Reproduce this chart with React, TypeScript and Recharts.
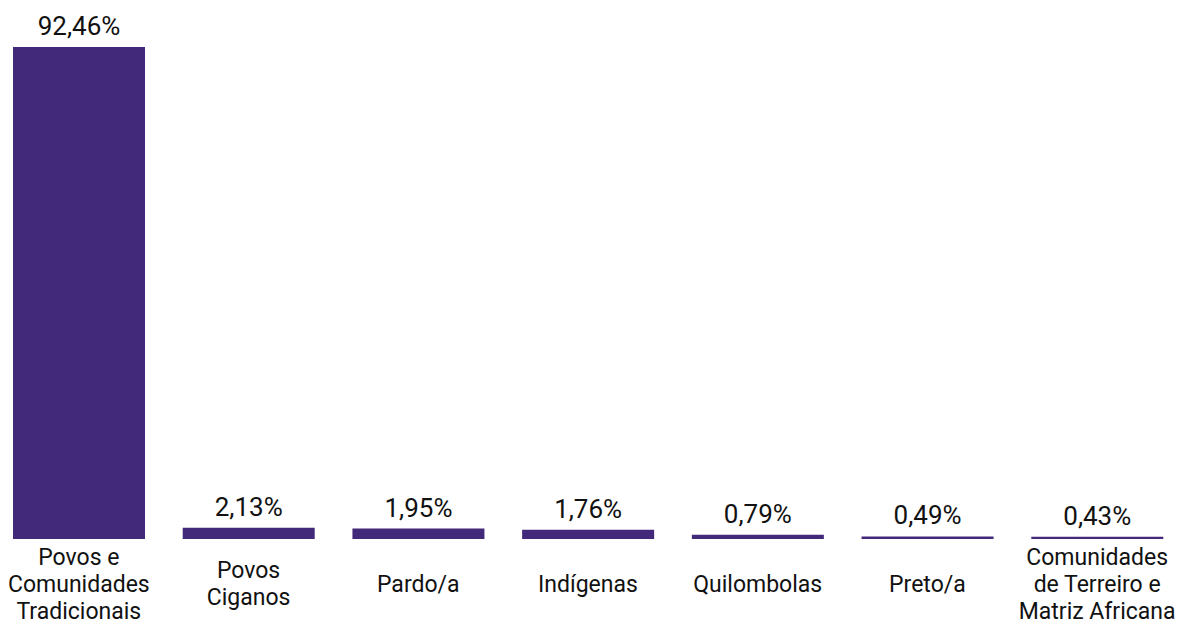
import React from 'react';
import { BarChart, Bar, XAxis, YAxis, LabelList } from 'recharts';

const categories = [
  ['Povos e', 'Comunidades', 'Tradicionais'],
  ['Povos', 'Ciganos'],
  ['Pardo/a'],
  ['Indígenas'],
  ['Quilombolas'],
  ['Preto/a'],
  ['Comunidades', 'de Terreiro e', 'Matriz Africana'],
];
const values = [92.46, 2.13, 1.95, 1.76, 0.79, 0.49, 0.43];
const valueLabels = ['92,46%', '2,13%', '1,95%', '1,76%', '0,79%', '0,49%', '0,43%'];

const data = categories.map((c, i) => ({
  name: c.join('\n'),
  value: values[i],
  label: valueLabels[i],
}));

const FONT = 'Roboto, sans-serif';

const CategoryTick = (props: any) => {
  const { x, payload } = props;
  const lines: string[] = String(payload.value).split('\n');
  const lineH = 27;
  const centerY = 584;
  const startY = centerY - ((lines.length - 1) * lineH) / 2;
  return (
    <g>
      {lines.map((l, i) => (
        <text
          key={i}
          x={x}
          y={startY + i * lineH}
          textAnchor="middle"
          dominantBaseline="central"
          fontFamily={FONT}
          fontSize={23}
          fill="#111"
        >
          {l}
        </text>
      ))}
    </g>
  );
};

export default function App() {
  return (
    <div style={{ position: 'absolute', left: 0, top: 0, background: '#fff' }}>
      <BarChart
        width={1183}
        height={626}
        data={data}
        margin={{ top: 47, right: 1, bottom: 0, left: -6 }}
        barCategoryGap={19}
      >
        <XAxis
          dataKey="name"
          axisLine={false}
          tickLine={false}
          height={87}
          interval={0}
          tick={<CategoryTick />}
        />
        <YAxis hide domain={[0, 92.46]} />
        <Bar dataKey="value" fill="#43297a" isAnimationActive={false}>
          <LabelList
            dataKey="label"
            position="top"
            offset={12}
            fontFamily={FONT}
            fontSize={26}
            fill="#111"
          />
        </Bar>
      </BarChart>
    </div>
  );
}
